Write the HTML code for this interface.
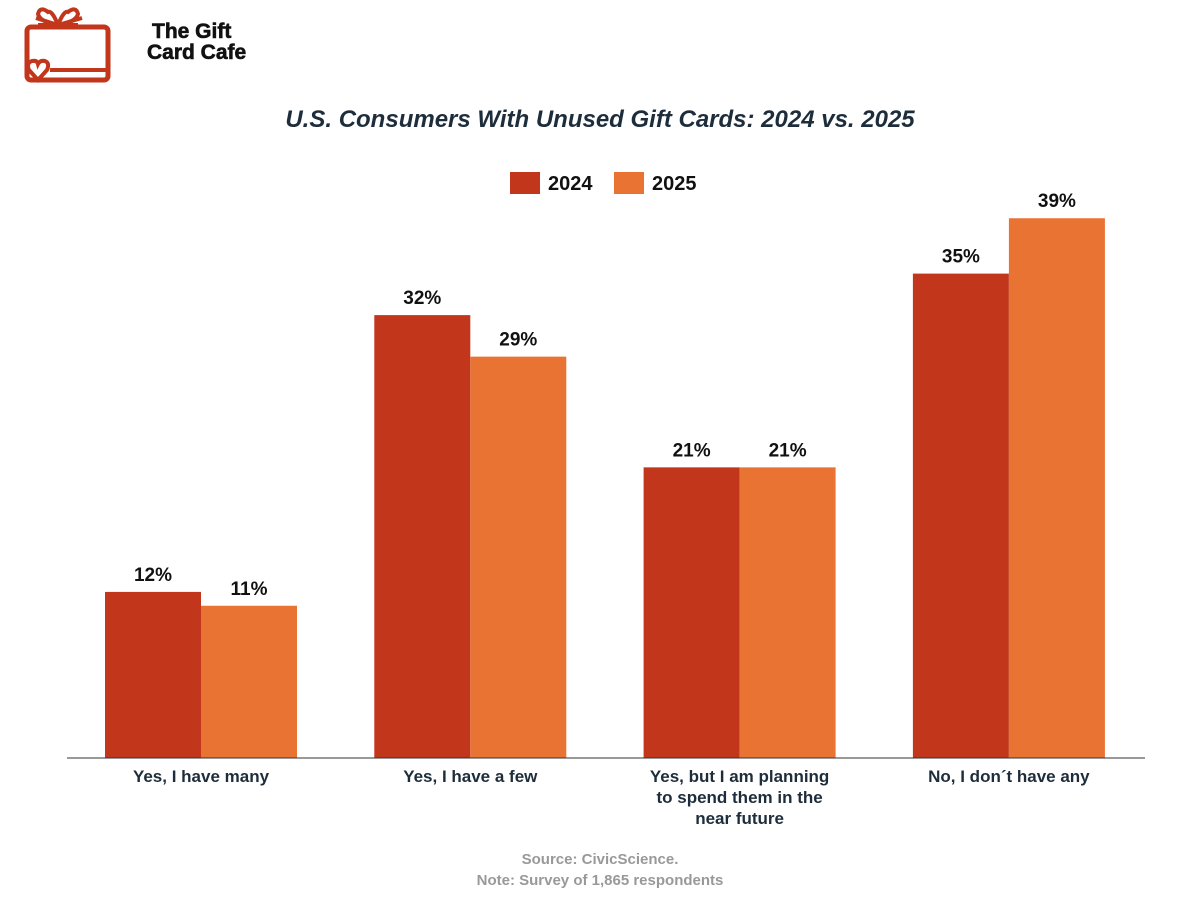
<!DOCTYPE html>
<html><head><meta charset="utf-8">
<style>
body{margin:0;background:#fff;width:1200px;height:900px;overflow:hidden;font-family:"Liberation Sans",sans-serif;}
</style></head>
<body>
<svg id="chart" width="1200" height="900" xmlns="http://www.w3.org/2000/svg">
  <g>
    <path d="M48 12 Q40 6 38 14 Q40 22 58 25 Q52 10 48 12 Z M68 12 Q76 6 78 14 Q76 22 58 25 Q64 10 68 12 Z M38 25 L58 25 L78 25" fill="none" stroke="#c2361b" stroke-width="4"/>
    <path d="M58 25 L36 18 M58 25 L82 18" stroke="#c2361b" stroke-width="4"/>
    <rect x="27" y="27" width="81" height="53" rx="4" fill="none" stroke="#c2361b" stroke-width="5"/>
    <line x1="50" y1="70" x2="108" y2="70" stroke="#c2361b" stroke-width="4"/>
    <path d="M38 80 L29 70 Q26 63 32 61 Q37 60 38 64 Q40 60 45 61 Q50 63 47 70 Z" fill="#fff" stroke="#c2361b" stroke-width="4"/>
    <text x="152" y="38" font-size="21" font-weight="900" fill="#111" stroke="#111" stroke-width="0.6">The Gift</text>
    <text x="147" y="59" font-size="21" font-weight="900" fill="#111" stroke="#111" stroke-width="0.6">Card Cafe</text>
  </g>
  <text x="600" y="127" text-anchor="middle" font-size="24" font-weight="bold" font-style="italic" fill="#1e2d3b">U.S. Consumers With Unused Gift Cards: 2024 vs. 2025</text>
  <g>
    <rect x="510" y="172" width="30" height="22" fill="#c2361b"/>
    <text x="548" y="190" font-size="20" font-weight="bold" fill="#111">2024</text>
    <rect x="614" y="172" width="30" height="22" fill="#e87333"/>
    <text x="652" y="190" font-size="20" font-weight="bold" fill="#111">2025</text>
  </g>
  <g id="bars"></g>
  <line x1="67" y1="758" x2="1145" y2="758" stroke="#333" stroke-width="1"/>
  <g id="xlabels"></g>
  <text x="600" y="864" text-anchor="middle" font-size="15" font-weight="bold" fill="#999">Source: CivicScience.</text>
  <text x="600" y="885" text-anchor="middle" font-size="15" font-weight="bold" fill="#999">Note: Survey of 1,865 respondents</text>
</svg>
<script>
const categories=[["Yes, I have many"],["Yes, I have a few"],["Yes, but I am planning","to spend them in the","near future"],["No, I don´t have any"]];
const values2024=[12,32,21,35];
const values2025=[11,29,21,39];
const NS="http://www.w3.org/2000/svg";
const base=758, pxPer=13.84, barW=96, start=201, step=269.3;
function y(v){return base-v*pxPer;}
function cx(i){return start+i*step;}
const bars=document.getElementById('bars');
const xl=document.getElementById('xlabels');
function bar(i,v,x,color,name){
  const r=document.createElementNS(NS,'rect');
  r.setAttribute('x',x);r.setAttribute('y',y(v));r.setAttribute('width',barW);r.setAttribute('height',base-y(v));r.setAttribute('fill',color);
  
  
  bars.appendChild(r);
  const t=document.createElementNS(NS,'text');
  t.setAttribute('x',x+barW/2);t.setAttribute('y',y(v)-11);t.setAttribute('text-anchor','middle');
  t.setAttribute('font-size','19');t.setAttribute('font-weight','bold');t.setAttribute('fill','#111');
  t.textContent=v+'%';
  
  
  bars.appendChild(t);
}
categories.forEach((c,i)=>{
  bar(i,values2024[i],cx(i)-barW,'#c2361b','bar-2024-'+i);
  bar(i,values2025[i],cx(i),'#e87333','bar-2025-'+i);
  c.forEach((line,j)=>{
    const t=document.createElementNS(NS,'text');
    t.setAttribute('x',cx(i));t.setAttribute('y',782+j*21);t.setAttribute('text-anchor','middle');
    t.setAttribute('font-size','17');t.setAttribute('font-weight','bold');t.setAttribute('fill','#1e2d3b');
    t.textContent=line;
    
    
    xl.appendChild(t);
  });
});
</script>
</body></html>
